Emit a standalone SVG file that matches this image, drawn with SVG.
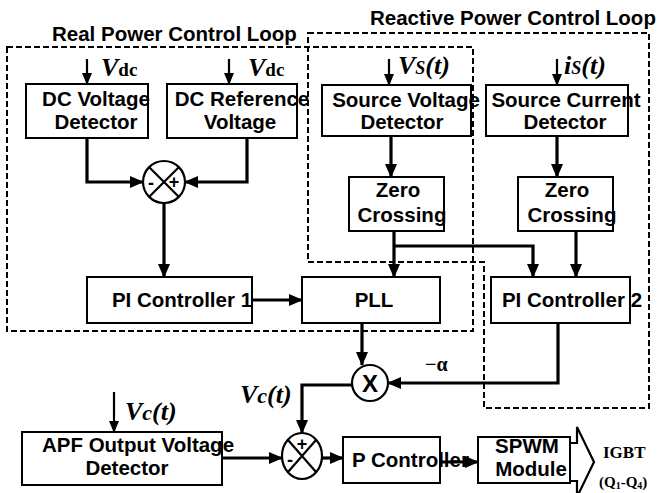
<svg xmlns="http://www.w3.org/2000/svg" width="662" height="493" viewBox="0 0 662 493">
<style>
.box{fill:none;stroke:#000;stroke-width:2}
.t{font-family:"Liberation Sans",Arial,sans-serif;font-weight:bold;font-size:20.5px;fill:#000;text-anchor:middle}
.title{font-family:"Liberation Sans",Arial,sans-serif;font-weight:bold;font-size:20.5px;fill:#000}
.lbl{font-family:"Liberation Serif","Times New Roman",serif;font-weight:bold;font-style:italic;font-size:26px;fill:#000}
.dash{fill:none;stroke:#000;stroke-width:2;stroke-dasharray:6,3}
.c{fill:none;stroke:#000;stroke-width:3.2}
.ci{fill:none;stroke:#000;stroke-width:2.2}
.sym{font-family:"Liberation Sans",Arial,sans-serif;font-weight:bold;fill:#000;text-anchor:middle}
</style>
<defs>
<marker id="ah" markerUnits="userSpaceOnUse" markerWidth="14" markerHeight="12" refX="13" refY="6" orient="auto">
<path d="M0,0 L14,6 L0,12 z" fill="#000"/>
</marker>
<marker id="ahs" markerUnits="userSpaceOnUse" markerWidth="12" markerHeight="10" refX="11" refY="5" orient="auto">
<path d="M0,0 L12,5 L0,10 z" fill="#000"/>
</marker>
</defs>
<rect width="662" height="493" fill="#fff"/>

<g id="loops">
<rect class="dash" x="7" y="47" width="466" height="284"/>
<path class="dash" d="M308,33 L649,33 L649,408 L484,408 L484,262 L308,262 Z"/>
<text class="title" x="52" y="41">Real Power Control Loop</text>
<text class="title" x="370" y="25">Reactive Power Control Loop</text>
</g>

<g id="dc-voltage-detector">
<rect class="box" x="26" y="84" width="122" height="54"/>
<text class="t" x="96" y="106">DC Voltage</text>
<text class="t" x="96" y="129">Detector</text>
</g>
<g id="dc-reference-voltage">
<rect class="box" x="167" y="84" width="130" height="54"/>
<text class="t" x="242" y="106">DC Reference</text>
<text class="t" x="240" y="129">Voltage</text>
</g>
<g id="source-voltage-detector">
<rect class="box" x="322" y="85" width="149" height="51"/>
<text class="t" x="406" y="107">Source Voltage</text>
<text class="t" x="402" y="129">Detector</text>
</g>
<g id="source-current-detector">
<rect class="box" x="486" y="85" width="142" height="51"/>
<text class="t" x="566" y="107">Source Current</text>
<text class="t" x="565" y="129">Detector</text>
</g>
<g id="zero-crossing-1">
<rect class="box" x="349" y="177" width="95" height="54"/>
<text class="t" x="398" y="197">Zero</text>
<text class="t" x="402" y="222">Crossing</text>
</g>
<g id="zero-crossing-2">
<rect class="box" x="518" y="177" width="95" height="54"/>
<text class="t" x="567" y="197">Zero</text>
<text class="t" x="572" y="222">Crossing</text>
</g>
<g id="pi-controller-1">
<rect class="box" x="87" y="277" width="165" height="46"/>
<text class="t" x="182" y="307">PI Controller 1</text>
</g>
<g id="pll">
<rect class="box" x="302" y="277" width="138" height="46"/>
<text class="t" x="374" y="307">PLL</text>
</g>
<g id="pi-controller-2">
<rect class="box" x="491" y="277" width="139" height="46"/>
<text class="t" x="572" y="307">PI Controller 2</text>
</g>
<g id="apf-output-voltage-detector">
<rect class="box" x="22" y="432" width="200" height="53"/>
<text class="t" x="138" y="452">APF Output Voltage</text>
<text class="t" x="127" y="475">Detector</text>
</g>
<g id="p-controller">
<rect class="box" x="343" y="437" width="97" height="46"/>
<text class="t" x="352" y="467" style="text-anchor:start">P Controller</text>
</g>
<g id="spwm-module">
<rect class="box" x="478" y="437" width="92" height="46"/>
<text class="t" x="527" y="453">SPWM</text>
<text class="t" x="531" y="476">Module</text>
</g>
<g id="igbt-output">
<path d="M570,443 L577,443 L577,427 L594,462 L577,497 L577,481 L570,481" fill="none" stroke="#000" stroke-width="2.2"/>
<text x="603" y="458" style="font-family:'Liberation Serif','Times New Roman',serif;font-weight:bold;font-size:17px">IGBT</text>
<text x="599" y="487" style="font-family:'Liberation Serif','Times New Roman',serif;font-weight:bold;font-size:15px">(Q<tspan font-size="10" dy="2">1</tspan><tspan dy="-2">-Q</tspan><tspan font-size="10" dy="2">4</tspan><tspan dy="-2">)</tspan></text>
</g>

<g id="sum-1">
<circle class="ci" cx="164" cy="182" r="21"/>
<path class="ci" d="M149,167 L179,197 M179,167 L149,197"/>
<text class="sym" x="151" y="189" font-size="18">-</text>
<text class="sym" x="174" y="188" font-size="18">+</text>
</g>
<g id="multiplier">
<circle class="ci" cx="370" cy="383" r="18"/>
<text class="sym" x="370" y="392" font-size="24">X</text>
</g>
<g id="sum-2">
<ellipse class="ci" cx="302" cy="456" rx="20" ry="23"/>
<path class="ci" d="M288,440 L316,472 M316,440 L288,472"/>
<text class="sym" x="302" y="450" font-size="18">+</text>
<text class="sym" x="290" y="466" font-size="18">-</text>
</g>

<g id="labels">
<text class="lbl" x="101" y="76">V<tspan font-style="normal" font-size="19">dc</tspan></text>
<text class="lbl" x="248" y="76">V<tspan font-style="normal" font-size="19">dc</tspan></text>
<text class="lbl" x="398" y="74">V<tspan font-size="18">S</tspan>(t)</text>
<text class="lbl" x="564" y="74">i<tspan font-size="18">S</tspan>(t)</text>
<text class="lbl" x="125" y="420">V<tspan font-size="22">c</tspan>(t)</text>
<text class="lbl" x="240" y="403">V<tspan font-size="22">c</tspan>(t)</text>
<text x="425" y="371" style="font-family:'Liberation Serif','Times New Roman',serif;font-weight:bold;font-size:20px">−α</text>
</g>

<g id="connectors">
<line class="ci" x1="87" y1="59" x2="87" y2="84" marker-end="url(#ahs)"/>
<line class="ci" x1="229" y1="59" x2="229" y2="84" marker-end="url(#ahs)"/>
<line class="ci" x1="389" y1="59" x2="389" y2="85" marker-end="url(#ahs)"/>
<line class="ci" x1="557" y1="59" x2="557" y2="85" marker-end="url(#ahs)"/>
<line class="ci" x1="114" y1="392" x2="114" y2="432" marker-end="url(#ahs)"/>
<path class="c" d="M87,138 L87,182 L143,182" marker-end="url(#ah)"/>
<path class="c" d="M247,138 L247,182 L185,182" marker-end="url(#ah)"/>
<line class="c" x1="164" y1="204" x2="164" y2="277" marker-end="url(#ah)"/>
<line class="c" x1="252" y1="300" x2="302" y2="300" marker-end="url(#ah)"/>
<line class="c" x1="391" y1="136" x2="391" y2="177" marker-end="url(#ah)"/>
<line class="c" x1="557" y1="136" x2="557" y2="177" marker-end="url(#ah)"/>
<line class="c" x1="394" y1="231" x2="394" y2="277" marker-end="url(#ah)"/>
<path class="c" d="M394,246 L533,246 L533,277" marker-end="url(#ah)"/>
<line class="c" x1="576" y1="231" x2="576" y2="277" marker-end="url(#ah)"/>
<line class="c" x1="362" y1="323" x2="362" y2="365" marker-end="url(#ah)"/>
<path class="c" d="M558,323 L558,383 L388,383" marker-end="url(#ah)"/>
<path class="c" d="M352,385 L302,385 L302,433" marker-end="url(#ah)"/>
<line class="c" x1="222" y1="458" x2="282" y2="458" marker-end="url(#ah)"/>
<line class="c" x1="322" y1="458" x2="343" y2="458" marker-end="url(#ah)"/>
<line class="c" x1="440" y1="462" x2="478" y2="462" marker-end="url(#ah)"/>
</g>
</svg>
